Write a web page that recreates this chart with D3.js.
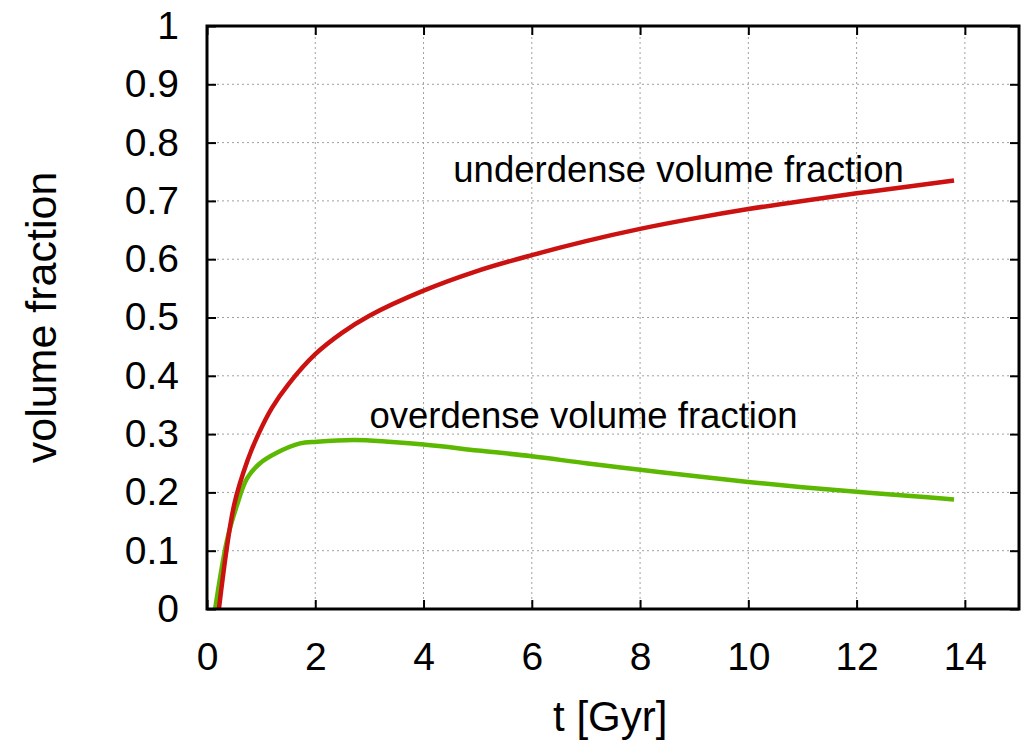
<!DOCTYPE html>
<html>
<head>
<meta charset="utf-8">
<script src="https://cdn.jsdelivr.net/npm/d3@7"></script>
<style>
  body { margin: 0; background: #fff; }
  text { font-family: "Liberation Sans", Arial, sans-serif; fill: #000; }
</style>
</head>
<body>
<div id="chart"></div>
<script>
// time axis values [Gyr]
const tUnder = [0.22, 0.5, 0.75, 0.95, 1.2, 1.5, 2.0, 2.5, 3.0, 4.0, 5.0, 6.0, 7.0, 8.0, 9.0, 10.0, 11.0, 12.0, 13.0, 13.8];
const underdense = [0.0, 0.178, 0.255, 0.300, 0.345, 0.385, 0.437, 0.474, 0.503, 0.546, 0.580, 0.607, 0.631, 0.652, 0.670, 0.686, 0.700, 0.713, 0.725, 0.735];

const tOver = [0.15, 0.37, 0.55, 0.74, 0.98, 1.29, 1.72, 2.03, 2.71, 3.0, 4.0, 5.0, 6.0, 7.0, 8.0, 9.0, 10.0, 11.0, 12.0, 13.0, 13.8];
const overdense = [0.0, 0.118, 0.177, 0.224, 0.250, 0.268, 0.284, 0.287, 0.290, 0.289, 0.282, 0.272, 0.262, 0.250, 0.239, 0.228, 0.218, 0.209, 0.201, 0.194, 0.188];

const xTicks = [0, 2, 4, 6, 8, 10, 12, 14];
const yTicks = [0, 0.1, 0.2, 0.3, 0.4, 0.5, 0.6, 0.7, 0.8, 0.9, 1];

const width = 1021, height = 745;
const margin = { left: 207, right: 2, top: 26, bottom: 136 };

const svg = d3.select("#chart").append("svg")
  .attr("width", width)
  .attr("height", height);

const xScale = d3.scaleLinear().domain([0, 15]).range([margin.left, width - margin.right]);
const yScale = d3.scaleLinear().domain([0, 1]).range([height - margin.bottom, margin.top]);

const x0 = xScale(0), x1 = xScale(15), y0 = yScale(0), y1 = yScale(1);

// grid
const grid = svg.append("g")
  .attr("stroke", "#a0a0a0")
  .attr("stroke-width", 1)
  .attr("stroke-dasharray", "2,3");
grid.selectAll(".gx").data(xTicks.filter(d => d > 0))
  .enter().append("line")
  .attr("x1", d => xScale(d)).attr("x2", d => xScale(d))
  .attr("y1", y0).attr("y2", y1);
grid.selectAll(".gy").data(yTicks.filter(d => d > 0 && d < 1))
  .enter().append("line")
  .attr("x1", x0).attr("x2", x1)
  .attr("y1", d => yScale(d)).attr("y2", d => yScale(d));

// axes (ticks inward, mirrored)
const tickLen = 9;
const xAxis = svg.append("g").attr("transform", `translate(0,${y0})`)
  .call(d3.axisBottom(xScale).tickValues(xTicks).tickSize(-tickLen).tickPadding(33).tickFormat(d3.format("d")));
const xAxisTop = svg.append("g").attr("transform", `translate(0,${y1})`)
  .call(d3.axisTop(xScale).tickValues(xTicks).tickSize(-tickLen).tickFormat(""));
const yAxis = svg.append("g").attr("transform", `translate(${x0},0)`)
  .call(d3.axisLeft(yScale).tickValues(yTicks).tickSize(-tickLen).tickPadding(28).tickFormat(d => d === 0 || d === 1 ? d3.format("d")(d) : d3.format(".1f")(d)));
const yAxisRight = svg.append("g").attr("transform", `translate(${x1},0)`)
  .call(d3.axisRight(yScale).tickValues(yTicks).tickSize(-tickLen).tickFormat(""));

[xAxis, xAxisTop, yAxis, yAxisRight].forEach(a => {
  a.select(".domain").remove();
  a.selectAll(".tick line").attr("stroke", "#000").attr("stroke-width", 2);
  a.selectAll(".tick text").attr("font-size", 39).attr("font-family", "Liberation Sans, Arial, sans-serif").attr("fill", "#000");
});
xAxis.selectAll(".tick text").attr("dy", "0.71em");

// lines
const line = d3.line()
  .x(d => xScale(d[0]))
  .y(d => yScale(d[1]))
  .curve(d3.curveCatmullRom.alpha(0.5));

svg.append("path")
  .datum(tOver.map((t, i) => [t, overdense[i]]))
  .attr("fill", "none")
  .attr("stroke", "#5cb800")
  .attr("stroke-width", 4.5)
  .attr("d", line);

svg.append("path")
  .datum(tUnder.map((t, i) => [t, underdense[i]]))
  .attr("fill", "none")
  .attr("stroke", "#cc1111")
  .attr("stroke-width", 4.5)
  .attr("d", line);

// frame
svg.append("rect")
  .attr("x", x0).attr("y", y1)
  .attr("width", x1 - x0).attr("height", y0 - y1)
  .attr("fill", "none")
  .attr("stroke", "#000")
  .attr("stroke-width", 3);

// annotations
svg.append("text")
  .attr("x", xScale(4.55)).attr("y", yScale(0.732))
  .attr("font-size", 36.5)
  .text("underdense volume fraction");
svg.append("text")
  .attr("x", xScale(3.0)).attr("y", yScale(0.310))
  .attr("font-size", 36.5)
  .text("overdense volume fraction");

// axis titles
svg.append("text")
  .attr("x", xScale(7.45)).attr("y", 731)
  .attr("text-anchor", "middle")
  .attr("font-size", 42)
  .text("t [Gyr]");
svg.append("text")
  .attr("transform", `translate(56,${(y0 + y1) / 2}) rotate(-90)`)
  .attr("text-anchor", "middle")
  .attr("font-size", 43)
  .text("volume fraction");
</script>
</body>
</html>
